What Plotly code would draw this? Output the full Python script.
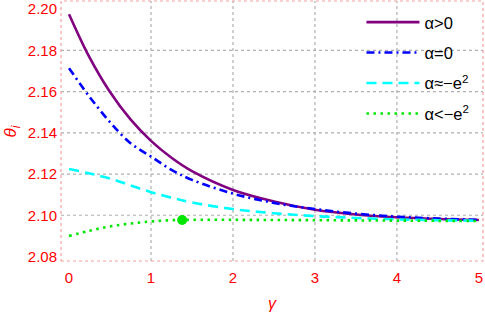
import plotly.graph_objects as go

gamma = [0, 0.25, 0.5, 0.75, 1, 1.25, 1.5, 2, 2.5, 3, 3.5, 4, 4.5, 5]
theta_pos = [2.1976, 2.1766, 2.1598, 2.1465, 2.1361, 2.1279, 2.1214, 2.1123, 2.1067, 2.1027, 2.1004, 2.0990, 2.0982, 2.0977]
theta_zero = [2.1714, 2.1575, 2.1452, 2.1350, 2.1285, 2.1220, 2.1172, 2.1105, 2.1060, 2.1030, 2.1008, 2.0993, 2.0984, 2.0978]
theta_approx = [2.1225, 2.1203, 2.1178, 2.1145, 2.1112, 2.1085, 2.1062, 2.1030, 2.1010, 2.0996, 2.0987, 2.0980, 2.0976, 2.0974]
theta_less = [2.0900, 2.0925, 2.0946, 2.0960, 2.0970, 2.0976, 2.0978, 2.0978, 2.0977, 2.0976, 2.0975, 2.0974, 2.0973, 2.0972]
peak_gamma = [1.38]
peak_theta = [2.0977]

names = ["α>0", "α=0", "α≈−e<sup>2</sup>", "α<−e<sup>2</sup>"]
series = [theta_pos, theta_zero, theta_approx, theta_less]
colors = ["#800080", "#0000ff", "#00ffff", "#00e600"]
dashes = ["solid", "8px,4px,2px,4px", "10px,6px", "2.5px,4.5px"]

x_ticks = [0, 1, 2, 3, 4, 5]
y_ticks = [2.08, 2.10, 2.12, 2.14, 2.16, 2.18, 2.20]
x_grid = [1, 2, 3, 4]
y_grid = [2.10, 2.12, 2.14, 2.16, 2.18]

fig = go.Figure()
for i, (n, s, c, d) in enumerate(zip(names, series, colors, dashes)):
    fig.add_trace(go.Scatter(x=gamma, y=s, mode="lines", name=n, legendgroup=f"g{i}",
                             line=dict(color=c, width=2.6, dash=d, shape="spline")))
fig.add_trace(go.Scatter(x=peak_gamma, y=peak_theta, mode="markers", showlegend=False,
                         marker=dict(color="#00e600", size=10)))

shapes = []
for gx in x_grid:
    shapes.append(dict(type="line", xref="x", yref="y domain", x0=gx, x1=gx, y0=0, y1=1,
                       line=dict(color="#b0b0b0", width=1.2, dash="dot"), layer="below"))
for gy in y_grid:
    shapes.append(dict(type="line", xref="x domain", yref="y", x0=0, x1=1, y0=gy, y1=gy,
                       line=dict(color="#b0b0b0", width=1.2, dash="dot"), layer="below"))
shapes.append(dict(type="rect", xref="x domain", yref="y domain", x0=0, x1=1, y0=0, y1=1,
                   line=dict(color="#f4a0a0", width=1.2, dash="dot"), layer="below"))

font_family = "Liberation Sans, Arial, sans-serif"
tickfont = dict(family=font_family, size=15, color="#ff0000")
annotations = [
    dict(text="<i>γ</i>", xref="paper", yref="paper", x=0.5, y=-0.163, xanchor="center", yanchor="middle",
         showarrow=False, font=dict(family=font_family, size=16, color="#ff0000")),
    dict(text="<i>θ<sub>i</sub></i>", xref="paper", yref="paper", x=-0.115, y=0.5, xanchor="center", yanchor="middle",
         textangle=-90, showarrow=False, font=dict(family=font_family, size=17, color="#ff0000")),
]

fig.update_layout(
    width=485, height=313,
    margin=dict(l=61, r=2, t=1, b=52),
    paper_bgcolor="white", plot_bgcolor="white",
    shapes=shapes,
    annotations=annotations,
    showlegend=True,
    legend=dict(x=0.712, y=0.985, xanchor="left", yanchor="top", bgcolor="rgba(0,0,0,0)",
                font=dict(family=font_family, size=16.5, color="black"),
                itemwidth=53, tracegroupgap=6),
    xaxis=dict(range=[-0.098, 5.05], tickvals=x_ticks, showgrid=False, zeroline=False,
               showline=False, ticks="", tickfont=tickfont, automargin=False, ticklabelstandoff=6,
               ticklabeloverflow="allow"),
    yaxis=dict(range=[2.0778, 2.204], tickvals=y_ticks, ticktext=[f"{v:.2f}" for v in y_ticks],
               showgrid=False, zeroline=False, showline=False, ticks="", tickfont=tickfont,
               automargin=False, ticklabelstandoff=3, ticklabeloverflow="allow"),
)
fig.write_html("out.html", config={"displayModeBar": False},
               post_script="document.body.style.margin='0';")
